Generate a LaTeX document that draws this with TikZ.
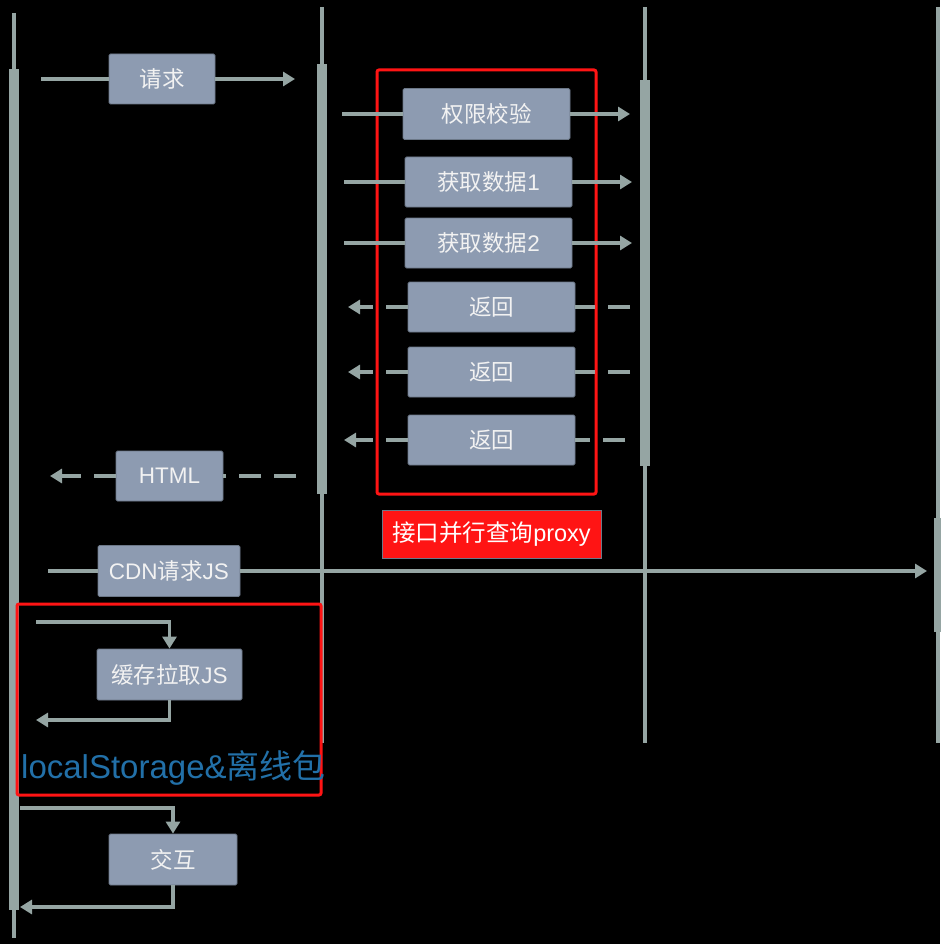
\documentclass[tikz,border=0pt]{standalone}
\usepackage{fontspec}
\setmainfont{Liberation Sans}
\newfontfamily\cjk{Noto Sans CJK SC}
\usetikzlibrary{arrows.meta}
\definecolor{lifegrey}{HTML}{95A5A3}
\definecolor{boxslate}{HTML}{8D9BB1}
\definecolor{boxedge}{HTML}{6C7888}
\definecolor{alertred}{HTML}{FF1414}
\definecolor{storeblue}{HTML}{2270A8}

\begin{document}
\begin{tikzpicture}[x=1pt, y=-1pt,
    stepbox/.style={fill=boxslate, draw=boxedge, line width=0.8pt, rounded corners=1.5pt,
      inner sep=0pt, text=white!95!black, font=\fontsize{22.5}{26}\selectfont},
    link/.style={draw=lifegrey, line width=3.5pt},
    msg/.style={link, -{Triangle[length=12pt,width=14pt]}},
    retlink/.style={link, dash pattern=on 22pt off 13pt},
    retmsg/.style={retlink, -{Triangle[length=12pt,width=14pt]}},
    frame/.style={draw=alertred, line width=3pt, rounded corners=2pt}]
  % Fondo
  \fill[black] (0,0) rectangle (940,944);
  \useasboundingbox (0,0) rectangle (940,944);
  % Lineas de vida
  \draw[lifegrey, line width=3.5pt] (14,13) -- (14,938);
  \fill[lifegrey] (9,69) rectangle (19,910);
  \draw[lifegrey, line width=3.5pt] (322,7) -- (322,743);
  \fill[lifegrey] (317,64) rectangle (327,494);
  \draw[lifegrey, line width=3.5pt] (645,7) -- (645,743);
  \fill[lifegrey] (640,80) rectangle (650,466);
  \draw[lifegrey, line width=3.5pt] (938,7) -- (938,743);
  \fill[lifegrey] (934,518) rectangle (942,632);
  % Marcos rojos
  \draw[frame] (377,70) rectangle (596,494);
  \draw[frame] (17,604) rectangle (321,795);
  \node[fill=alertred, draw=boxedge, line width=1pt, inner sep=0pt, minimum width=219pt,
    minimum height=48pt, text=white, font=\fontsize{23.5}{27}\selectfont] (proxy) at (491.5,534)
    {{\cjk 接口并行查询}proxy};
  % Cajas de mensajes
  \node[stepbox, minimum width=106pt, minimum height=50pt] (req) at (162,79) {\cjk 请求};
  \node[stepbox, minimum width=167pt, minimum height=51pt] (auth) at (486.5,114) {\cjk 权限校验};
  \node[stepbox, minimum width=167pt, minimum height=50pt] (data1) at (488.5,182) {{\cjk 获取数据}1};
  \node[stepbox, minimum width=167pt, minimum height=50pt] (data2) at (488.5,243) {{\cjk 获取数据}2};
  \node[stepbox, minimum width=167pt, minimum height=50pt] (ret1) at (491.5,307) {\cjk 返回};
  \node[stepbox, minimum width=167pt, minimum height=50pt] (ret2) at (491.5,372) {\cjk 返回};
  \node[stepbox, minimum width=167pt, minimum height=50pt] (ret3) at (491.5,440) {\cjk 返回};
  \node[stepbox, minimum width=107pt, minimum height=50pt] (html) at (169.5,476) {HTML};
  \node[stepbox, minimum width=142pt, minimum height=51pt] (cdn) at (169,571) {CDN{\cjk 请求}JS};
  \node[stepbox, minimum width=145pt, minimum height=51pt] (cache) at (169.5,674.5) {{\cjk 缓存拉取}JS};
  \node[stepbox, minimum width=128pt, minimum height=51pt] (inter) at (173,859.5) {\cjk 交互};
  \node[anchor=base west, inner sep=0pt, text=storeblue, font=\fontsize{33}{38}\selectfont]
    (store) at (21,778) {localStorage\&{\cjk 离线包}};
  % Extremos de las flechas
  \coordinate (reqA) at (41,79);     \coordinate (reqB) at (295,79);
  \coordinate (authA) at (342,114);  \coordinate (authB) at (630,114);
  \coordinate (d1A) at (344,182);    \coordinate (d1B) at (632,182);
  \coordinate (d2A) at (344,243);    \coordinate (d2B) at (632,243);
  \coordinate (r1A) at (630,307);    \coordinate (r1B) at (348,307);
  \coordinate (r2A) at (630,372);    \coordinate (r2B) at (348,372);
  \coordinate (r3A) at (625,440);    \coordinate (r3B) at (344,440);
  \coordinate (htmlA) at (296,476);  \coordinate (htmlB) at (50,476);
  \coordinate (cdnA) at (48,571);    \coordinate (cdnB) at (927,571);
  \coordinate (cacheA) at (36,622);  \coordinate (cacheB) at (36,720);
  \coordinate (interA) at (20,808);  \coordinate (interB) at (20,907);
  % Mensajes de ida
  \draw[link] (reqA) -- (req.west);     \draw[msg] (req.east) -- (reqB);
  \draw[link] (authA) -- (auth.west);   \draw[msg] (auth.east) -- (authB);
  \draw[link] (d1A) -- (data1.west);    \draw[msg] (data1.east) -- (d1B);
  \draw[link] (d2A) -- (data2.west);    \draw[msg] (data2.east) -- (d2B);
  \draw[link] (cdnA) -- (cdn.west);     \draw[msg] (cdn.east) -- (cdnB);
  % Respuestas
  \draw[retlink] (r1A) -- (ret1.east);  \draw[retmsg] (ret1.west) -- (r1B);
  \draw[retlink] (r2A) -- (ret2.east);  \draw[retmsg] (ret2.west) -- (r2B);
  \draw[retlink] (r3A) -- (ret3.east);  \draw[retmsg] (ret3.west) -- (r3B);
  \draw[retlink] (htmlA) -- (html.east); \draw[retmsg] (html.west) -- (htmlB);
  % Mensajes a si mismo
  \draw[msg] (cacheA) -| (cache.north);  \draw[msg] (cache.south) |- (cacheB);
  \draw[msg] (interA) -| (inter.north);  \draw[msg] (inter.south) |- (interB);
\end{tikzpicture}
\end{document}
